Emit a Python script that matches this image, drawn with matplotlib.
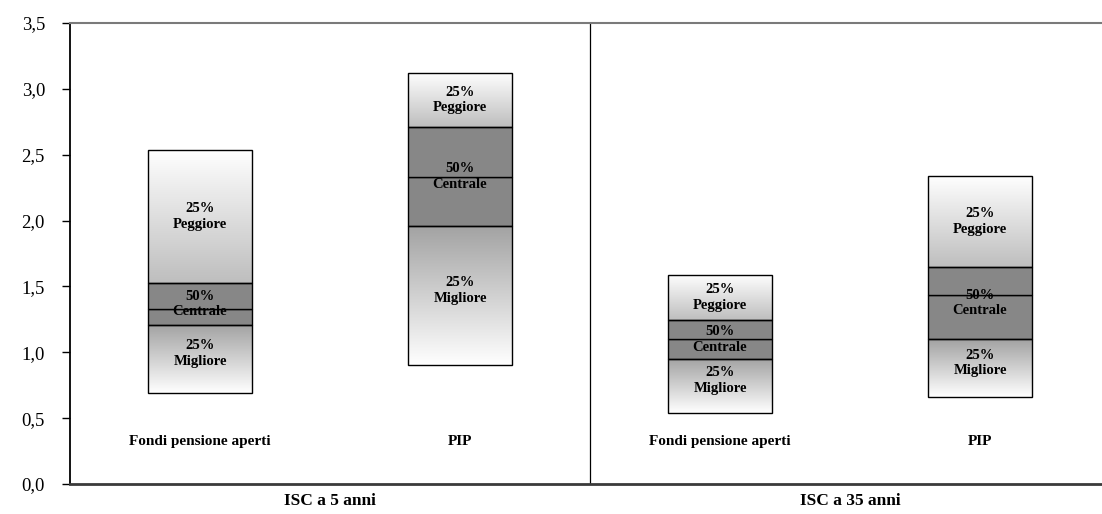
import numpy as np
import matplotlib
matplotlib.use("Agg")
import matplotlib.pyplot as plt
from matplotlib.colors import LinearSegmentedColormap
from matplotlib import transforms

# ---- data ----
categories = ["Fondi pensione aperti", "PIP", "Fondi pensione aperti", "PIP"]
groups = ["ISC a 5 anni", "ISC a 35 anni"]
min_vals = [0.69, 0.90, 0.54, 0.66]
q1_vals = [1.21, 1.96, 0.95, 1.10]
median_vals = [1.33, 2.33, 1.10, 1.435]
q3_vals = [1.525, 2.71, 1.245, 1.645]
max_vals = [2.535, 3.12, 1.59, 2.34]
yticks = [0.0, 0.5, 1.0, 1.5, 2.0, 2.5, 3.0, 3.5]
ytick_labels = ["0,0", "0,5", "1,0", "1,5", "2,0", "2,5", "3,0", "3,5"]
top_label = "25%\nPeggiore"
mid_label = "50%\nCentrale"
bot_label = "25%\nMigliore"

serif = ["Liberation Serif", "DejaVu Serif"]

fig = plt.figure(figsize=(11.02, 5.14), dpi=100)
ax = fig.add_axes([70 / 1102, 30 / 514, 1 - 70 / 1102, 461 / 514])

x = np.arange(len(categories)) + 0.5
width = 0.4

grad = np.linspace(0, 1, 256).reshape(-1, 1)
cmap_top = LinearSegmentedColormap.from_list("top", ["#bebebe", "#ffffff"])
cmap_bot = LinearSegmentedColormap.from_list("bot", ["#ffffff", "#a2a2a2"])
mid_color = "#878787"

for i, xc in enumerate(x):
    x0, x1 = xc - width / 2, xc + width / 2
    ax.imshow(grad, cmap=cmap_top, extent=[x0, x1, q3_vals[i], max_vals[i]],
              origin="lower", aspect="auto", zorder=1, interpolation="bilinear")
    ax.imshow(grad, cmap=cmap_bot, extent=[x0, x1, min_vals[i], q1_vals[i]],
              origin="lower", aspect="auto", zorder=1, interpolation="bilinear")

ax.bar(x, np.array(max_vals) - np.array(q3_vals), bottom=q3_vals, width=width,
       fill=False, edgecolor="black", linewidth=1, zorder=3)
ax.bar(x, np.array(q1_vals) - np.array(min_vals), bottom=min_vals, width=width,
       fill=False, edgecolor="black", linewidth=1, zorder=3)
ax.bar(x, np.array(median_vals) - np.array(q1_vals), bottom=q1_vals, width=width,
       color=mid_color, edgecolor="black", linewidth=1, zorder=2)
ax.bar(x, np.array(q3_vals) - np.array(median_vals), bottom=median_vals, width=width,
       color=mid_color, edgecolor="black", linewidth=1, zorder=2)

txt_kw = dict(ha="center", va="center", fontsize=10.5, fontweight="bold",
              family=serif, linespacing=1.25, zorder=4)
for i, xc in enumerate(x):
    ax.text(xc, (q3_vals[i] + max_vals[i]) / 2, top_label, **txt_kw)
    ax.text(xc, (q1_vals[i] + q3_vals[i]) / 2, mid_label, **txt_kw)
    ax.text(xc, (min_vals[i] + q1_vals[i]) / 2 + 0.04, bot_label, **txt_kw)
    ax.text(xc, 0.32, categories[i], ha="center", va="center", fontsize=11,
            fontweight="bold", family=serif)

ax.axvline(2.0, color="black", linewidth=0.9, zorder=0)

trans = transforms.blended_transform_factory(ax.transData, ax.transAxes)
for g, gx in zip(groups, [1.0, 3.0]):
    ax.text(gx, -0.036, g, transform=trans, ha="center", va="center",
            fontsize=12.5, fontweight="bold", family=serif)

ax.set_xlim(0, (1102 - 70) / 260)
ax.set_ylim(0, 3.5)
ax.set_xticks([])
ax.set_yticks(yticks)
ax.set_yticklabels(ytick_labels, family=serif, fontsize=13.5)
ax.tick_params(axis="y", length=6, width=1, pad=12, color="black")

ax.spines["right"].set_visible(False)
ax.spines["left"].set_color("black")
ax.spines["left"].set_linewidth(1.3)
ax.spines["top"].set_color("#7a7a7a")
ax.spines["top"].set_linewidth(1.5)
ax.spines["bottom"].set_color("#3a3a3a")
ax.spines["bottom"].set_linewidth(2)

fig.savefig("out.png", dpi=100)
